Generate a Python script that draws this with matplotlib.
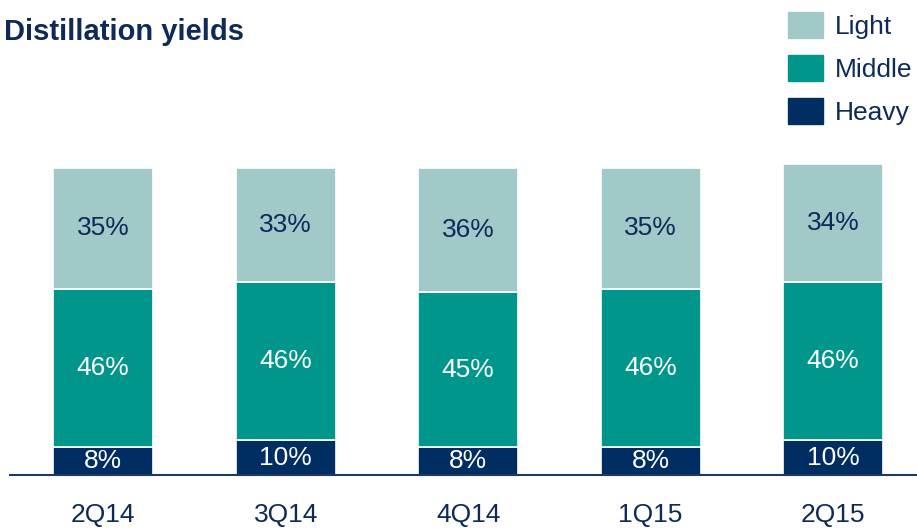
import numpy as np
import matplotlib.pyplot as plt
from matplotlib.patches import Patch

plt.rcParams['font.family'] = ['Liberation Sans', 'DejaVu Sans']

# Destillationsausbeuten je Quartal (in %)
quartale = ['2Q14', '3Q14', '4Q14', '1Q15', '2Q15']
heavy = [8, 10, 8, 8, 10]
middle = [46, 46, 45, 46, 46]
light = [35, 33, 36, 35, 34]

c_light = '#A0C9C8'
c_middle = '#00968C'
c_heavy = '#002D62'
c_text = '#0D2A58'

fig = plt.figure(figsize=(9.17, 5.28), dpi=100)
# Achse in Pixeln: links 10, rechts 917, unten 475, oben 150
ax = fig.add_axes([10 / 917, 1 - 475 / 528, 907 / 917, 325 / 528])

x = np.arange(len(quartale))
breite = 100 / 182.5

unten = np.zeros(len(x))
for werte, farbe, tfarbe in [(heavy, c_heavy, 'white'),
                              (middle, c_middle, 'white'),
                              (light, c_light, c_text)]:
    ax.bar(x, werte, breite, bottom=unten, color=farbe,
           edgecolor='white', linewidth=1.2)
    for xi, w, b in zip(x, werte, unten):
        ax.text(xi, b + w / 2, f'{w}%', ha='center', va='center',
                fontsize=19, color=tfarbe)
    unten = unten + np.array(werte)

ax.set_xlim(-0.511, 4.46)
ax.set_ylim(0, 94.2)
for s in ['top', 'right', 'left']:
    ax.spines[s].set_visible(False)
ax.spines['bottom'].set_color('#1F3864')
ax.spines['bottom'].set_linewidth(1.5)
ax.set_yticks([])
ax.set_xticks(x)
ax.set_xticklabels(quartale, fontsize=19, color=c_text)
ax.tick_params(axis='x', length=0, pad=20)

fig.text(4 / 917, 1 - 32 / 528, 'Distillation yields', fontsize=21,
         fontweight='bold', color=c_text, va='center')

handles = [Patch(color=c_light), Patch(color=c_middle), Patch(color=c_heavy)]
fig.legend(handles, ['Light', 'Middle', 'Heavy'], loc='upper left',
           bbox_to_anchor=(780 / 917, 1 - 4 / 528), frameon=False, fontsize=19,
           labelcolor=c_text, handlelength=1.33, handleheight=1.12,
           labelspacing=0.62, handletextpad=0.45, borderpad=0.3,
           borderaxespad=0)

fig.savefig('out.png', dpi=100)
